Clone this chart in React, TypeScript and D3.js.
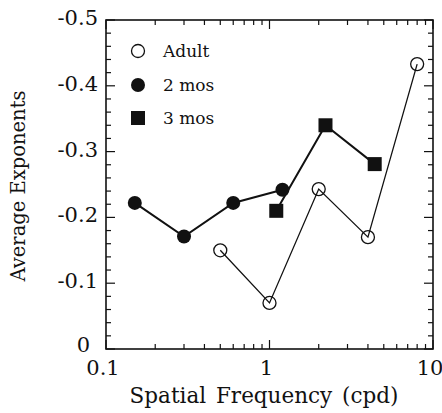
import * as d3 from 'd3'
import {useEffect, useRef} from 'react'

const adultX = [0.5, 1, 2, 4, 8]
const adultY = [-0.15, -0.07, -0.243, -0.17, -0.433]
const twoMosX = [0.15, 0.3, 0.6, 1.2]
const twoMosY = [-0.222, -0.171, -0.222, -0.242]
const threeMosX = [1.1, 2.2, 4.4]
const threeMosY = [-0.21, -0.34, -0.281]

const legendLabels = ['Adult', '2 mos', '3 mos']
const yTicks = [0, -0.1, -0.2, -0.3, -0.4, -0.5]
const yTickLabels = ['0', '-0.1', '-0.2', '-0.3', '-0.4', '-0.5']
const xTicks = [0.1, 1, 10]
const xTickLabels = ['0.1', '1', '10']

const font = '"DejaVu Serif", serif'

export default function App() {
  const ref = useRef<SVGSVGElement>(null)

  useEffect(() => {
    const width = 442
    const height = 413
    const margin = {top: 20, right: 9, bottom: 64, left: 106}
    const x = d3.scaleLog().domain([0.1, 10]).range([margin.left, width - margin.right])
    const y = d3.scaleLinear().domain([0, -0.5]).range([height - margin.bottom, margin.top])
    const [x0, x1] = x.range()
    const [y0, y1] = y.range()

    const svg = d3.select(ref.current)
    svg.selectAll('*').remove()

    // minor ticks
    const yMinor = d3.range(0, 26).map(i => -i * 0.02).filter(v => !yTicks.some(t => Math.abs(t - v) < 1e-9))
    const xMinor: number[] = []
    for (const dec of [0.1, 1]) for (let k = 2; k <= 9; k++) xMinor.push(dec * k)

    const g = svg.append('g').attr('stroke', '#111').attr('fill', 'none')
    const tick = (x1_: number, y1_: number, x2_: number, y2_: number) =>
      g.append('line').attr('x1', x1_).attr('y1', y1_).attr('x2', x2_).attr('y2', y2_).attr('stroke-width', 1.2)

    for (const v of yMinor) {
      tick(x0, y(v), x0 + 5, y(v))
      tick(x1, y(v), x1 - 5, y(v))
    }
    for (const v of yTicks) {
      tick(x0, y(v), x0 + 9, y(v))
      tick(x1, y(v), x1 - 9, y(v))
    }
    for (const v of xMinor) {
      tick(x(v), y0, x(v), y0 - 5)
      tick(x(v), y1, x(v), y1 + 5)
    }
    for (const v of xTicks) {
      tick(x(v), y0, x(v), y0 - 9)
      tick(x(v), y1, x(v), y1 + 9)
    }

    g.append('rect')
      .attr('x', x0)
      .attr('y', y1)
      .attr('width', x1 - x0)
      .attr('height', y0 - y1)
      .attr('stroke-width', 1.6)

    // tick labels
    svg
      .append('g')
      .selectAll('text')
      .data(yTicks)
      .enter()
      .append('text')
      .attr('x', (d, i) => (i === 0 ? x0 - 16 : x0 - 8))
      .attr('y', (d, i) => y(d) + (i === 0 ? 3 : 5))
      .attr('text-anchor', 'end')
      .attr('font-family', font)
      .attr('font-size', 21)
      .attr('fill', '#111')
      .text((d, i) => yTickLabels[i])

    svg
      .append('g')
      .selectAll('text')
      .data(xTicks)
      .enter()
      .append('text')
      .attr('x', d => x(d) - 3)
      .attr('y', y0 + 26)
      .attr('text-anchor', 'middle')
      .attr('font-family', font)
      .attr('font-size', 21)
      .attr('fill', '#111')
      .text((d, i) => xTickLabels[i])

    // axis titles
    svg
      .append('text')
      .attr('x', 264)
      .attr('y', 403)
      .attr('text-anchor', 'middle')
      .attr('font-family', font)
      .attr('font-size', 21.5)
      .attr('word-spacing', 3)
      .attr('fill', '#111')
      .text('Spatial Frequency (cpd)')

    svg
      .append('text')
      .attr('transform', 'translate(25,186) rotate(-90)')
      .attr('text-anchor', 'middle')
      .attr('font-family', font)
      .attr('font-size', 19.5)
      .attr('fill', '#111')
      .text('Average Exponents')

    // lines
    const line = d3
      .line<[number, number]>()
      .x(d => x(d[0]))
      .y(d => y(d[1]))
    const adult = adultX.map((v, i) => [v, adultY[i]] as [number, number])
    const two = twoMosX.map((v, i) => [v, twoMosY[i]] as [number, number])
    const three = threeMosX.map((v, i) => [v, threeMosY[i]] as [number, number])

    // open circles first, so the line shows through them as in the scan
    svg
      .append('g')
      .selectAll('circle')
      .data(adult)
      .enter()
      .append('circle')
      .attr('cx', d => x(d[0]))
      .attr('cy', d => y(d[1]))
      .attr('r', 6.5)
      .attr('fill', 'none')
      .attr('stroke', '#111')
      .attr('stroke-width', 1.3)

    svg.append('path').attr('d', line(adult)).attr('fill', 'none').attr('stroke', '#111').attr('stroke-width', 1.3)
    svg.append('path').attr('d', line(two)).attr('fill', 'none').attr('stroke', '#111').attr('stroke-width', 2)
    svg.append('path').attr('d', line(three)).attr('fill', 'none').attr('stroke', '#111').attr('stroke-width', 2)

    svg
      .append('g')
      .selectAll('circle')
      .data(two)
      .enter()
      .append('circle')
      .attr('cx', d => x(d[0]))
      .attr('cy', d => y(d[1]))
      .attr('r', 7)
      .attr('fill', '#111')
    svg
      .append('g')
      .selectAll('rect')
      .data(three)
      .enter()
      .append('rect')
      .attr('x', d => x(d[0]) - 7)
      .attr('y', d => y(d[1]) - 7)
      .attr('width', 14)
      .attr('height', 14)
      .attr('fill', '#111')

    // legend
    const lx = 138
    const ly = [51, 85, 118]
    svg.append('circle').attr('cx', lx).attr('cy', ly[0]).attr('r', 6.5).attr('fill', '#fff').attr('stroke', '#111').attr('stroke-width', 1.3)
    svg.append('circle').attr('cx', lx).attr('cy', ly[1]).attr('r', 7).attr('fill', '#111')
    svg.append('rect').attr('x', lx - 7).attr('y', ly[2] - 7).attr('width', 14).attr('height', 14).attr('fill', '#111')
    svg
      .append('g')
      .selectAll('text')
      .data(legendLabels)
      .enter()
      .append('text')
      .attr('x', 163)
      .attr('y', (d, i) => ly[i] + 6)
      .attr('font-family', font)
      .attr('font-size', 17)
      .attr('fill', '#111')
      .text(d => d)
  }, [])

  return <svg ref={ref} width={442} height={413} style={{position: 'absolute', left: 0, top: 0, background: '#fff'}} />
}
